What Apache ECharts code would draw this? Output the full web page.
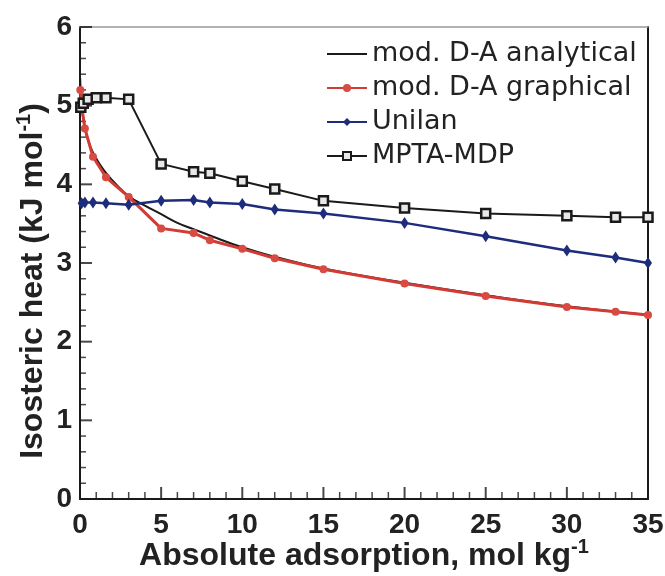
<!DOCTYPE html>
<html>
<head>
<meta charset="utf-8">
<script src="https://cdn.jsdelivr.net/npm/echarts@6/dist/echarts.min.js"></script>
<style>html,body{margin:0;padding:0;background:#fff;}#c{width:665px;height:576px;}</style>
</head>
<body>
<div id="c"></div>
<script>
// ---- data ----
var anaX = [0.01, 0.1, 0.3, 0.6, 1, 1.5, 2, 3, 4, 5, 6, 7, 8, 10, 12, 15, 20, 25, 30, 35];
var anaY = [5.35, 5.0, 4.72, 4.5, 4.33, 4.17, 4.05, 3.85, 3.73, 3.62, 3.51, 3.43, 3.35, 3.2, 3.08, 2.93, 2.75, 2.59, 2.45, 2.34];

var graX = [0.02, 0.1, 0.3, 0.8, 1.6, 3, 5, 7, 8, 10, 12, 15, 20, 25, 30, 33, 35];
var graY = [5.2, 5.0, 4.71, 4.35, 4.09, 3.84, 3.44, 3.38, 3.29, 3.18, 3.06, 2.92, 2.74, 2.58, 2.44, 2.38, 2.34];

var uniX = [0.1, 0.3, 0.8, 1.6, 3, 5, 7, 8, 10, 12, 15, 20, 25, 30, 33, 35];
var uniY = [3.76, 3.77, 3.77, 3.76, 3.74, 3.79, 3.8, 3.77, 3.75, 3.68, 3.63, 3.51, 3.34, 3.16, 3.07, 3.0];

var mptaX = [0.05, 0.2, 0.5, 1, 1.6, 3, 5, 7, 8, 10, 12, 15, 20, 25, 30, 33, 35];
var mptaY = [4.98, 5.03, 5.08, 5.1, 5.1, 5.08, 4.26, 4.16, 4.14, 4.04, 3.94, 3.79, 3.7, 3.63, 3.6, 3.58, 3.58];

var seriesNames = ['mod. D-A analytical', 'mod. D-A graphical', 'Unilan', 'MPTA-MDP'];
var xTicks = [0, 5, 10, 15, 20, 25, 30, 35];
var yTicks = [0, 1, 2, 3, 4, 5, 6];
var minorPerMajor = 5;

function pairs(xs, ys) { return xs.map(function (x, i) { return [x, ys[i]]; }); }

function minorOf(ticks) {
  var out = [];
  for (var i = 0; i < ticks.length - 1; i++) {
    var step = (ticks[i + 1] - ticks[i]) / minorPerMajor;
    for (var k = 1; k < minorPerMajor; k++) out.push(ticks[i] + k * step);
  }
  return out;
}
var xMinor = minorOf(xTicks), yMinor = minorOf(yTicks);

var tickFont = {fontFamily: '"Liberation Sans Narrow", "Liberation Sans", Arial, sans-serif', fontWeight: 'bold', fontSize: 28, color: '#222'};
var black = '#1a1a1a';
var lineIcon = 'path://M0,0 L40,0 L40,2 L0,2 Z';

function tickSeries(points, size, offset) {
  return {
    type: 'scatter', silent: true, clip: false, z: 1, symbol: 'rect',
    symbolSize: size, symbolOffset: offset,
    itemStyle: {color: black}, data: points
  };
}

var chart = echarts.init(document.getElementById('c'), null, {renderer: 'canvas'});
chart.setOption({
  animation: false,
  backgroundColor: '#fff',
  grid: {left: 80, right: 17, top: 27, bottom: 77, containLabel: false, outerBoundsMode: 'none'},
  legend: {
    orient: 'vertical', left: 321, top: 34, align: 'left',
    itemWidth: 40, itemHeight: 10, itemGap: 4,
    data: [
      {name: seriesNames[0], icon: lineIcon},
      {name: seriesNames[1]},
      {name: seriesNames[2]},
      {name: seriesNames[3]}
    ],
    textStyle: {fontFamily: '"DejaVu Sans", sans-serif', fontSize: 27, color: '#222', lineHeight: 30}
  },
  xAxis: [{
    type: 'value', min: 0, max: 35, interval: 5, position: 'bottom',
    axisLine: {show: true, onZero: false, lineStyle: {color: black, width: 2}},
    axisTick: {show: false},
    splitLine: {show: false},
    axisLabel: Object.assign({margin: 12}, tickFont),
    name: '{a|Absolute adsorption, mol kg}{s|-1}',
    nameLocation: 'middle', nameGap: 38, nameMoveOverlap: false,
    nameTextStyle: {rich: {
      a: {fontFamily: '"Liberation Sans", Arial, sans-serif', fontWeight: 'bold', fontSize: 32, color: '#222'},
      s: {fontFamily: '"Liberation Sans", Arial, sans-serif', fontWeight: 'bold', fontSize: 20, color: '#222', verticalAlign: 'top', padding: [0, 0, 18, 0]}
    }}
  }, {
    type: 'value', min: 0, max: 35, position: 'top',
    axisLine: {show: true, onZero: false, lineStyle: {color: '#999', width: 1.5}},
    axisTick: {show: false}, minorTick: {show: false}, axisLabel: {show: false}, splitLine: {show: false}
  }],
  yAxis: [{
    type: 'value', min: 0, max: 6, interval: 1, position: 'left',
    axisLine: {show: true, onZero: false, lineStyle: {color: black, width: 2}},
    axisTick: {show: false},
    splitLine: {show: false},
    axisLabel: Object.assign({margin: 8}, tickFont),
    name: '{a|Isosteric heat (kJ mol}{s|-1}{a|)}',
    nameLocation: 'middle', nameGap: 28, nameRotate: 90, nameMoveOverlap: false,
    nameTextStyle: {padding: [0, 36, 0, 0], rich: {
      a: {fontFamily: '"Liberation Sans", Arial, sans-serif', fontWeight: 'bold', fontSize: 32, color: '#222'},
      s: {fontFamily: '"Liberation Sans", Arial, sans-serif', fontWeight: 'bold', fontSize: 20, color: '#222', verticalAlign: 'top', padding: [0, 0, 18, 0]}
    }}
  }, {
    type: 'value', min: 0, max: 6, position: 'right',
    axisLine: {show: true, onZero: false, lineStyle: {color: black, width: 2}},
    axisTick: {show: false}, minorTick: {show: false}, axisLabel: {show: false}, splitLine: {show: false}
  }],
  series: [
    tickSeries(xTicks.map(function (v) { return [v, 0]; }), [2, 12], [0, -6]),
    tickSeries(xMinor.map(function (v) { return [v, 0]; }), [1.5, 7], [0, -3.5]),
    tickSeries(yTicks.map(function (v) { return [0, v]; }), [12, 2], [6, 0]),
    tickSeries(yMinor.map(function (v) { return [0, v]; }), [6, 1.5], [3, 0]),
  {
    name: seriesNames[0], type: 'line', smooth: true, symbol: 'none',
    data: pairs(anaX, anaY), z: 2,
    lineStyle: {color: black, width: 2}, itemStyle: {color: black}
  }, {
    name: seriesNames[1], type: 'line', symbol: 'circle', symbolSize: 8,
    data: pairs(graX, graY), z: 3,
    lineStyle: {color: '#d23a34', width: 3}, itemStyle: {color: '#d94a42'}
  }, {
    name: seriesNames[2], type: 'line', symbol: 'diamond', symbolSize: [8, 12],
    data: pairs(uniX, uniY), z: 3,
    lineStyle: {color: '#1e2c7c', width: 2.5}, itemStyle: {color: '#1e2c7c'}
  }, {
    name: seriesNames[3], type: 'line', symbol: 'rect', symbolSize: 9,
    data: pairs(mptaX, mptaY), z: 3,
    lineStyle: {color: black, width: 2}, itemStyle: {color: '#e8e8e8', borderColor: black, borderWidth: 2.5}
  }]
});
</script>
</body>
</html>
